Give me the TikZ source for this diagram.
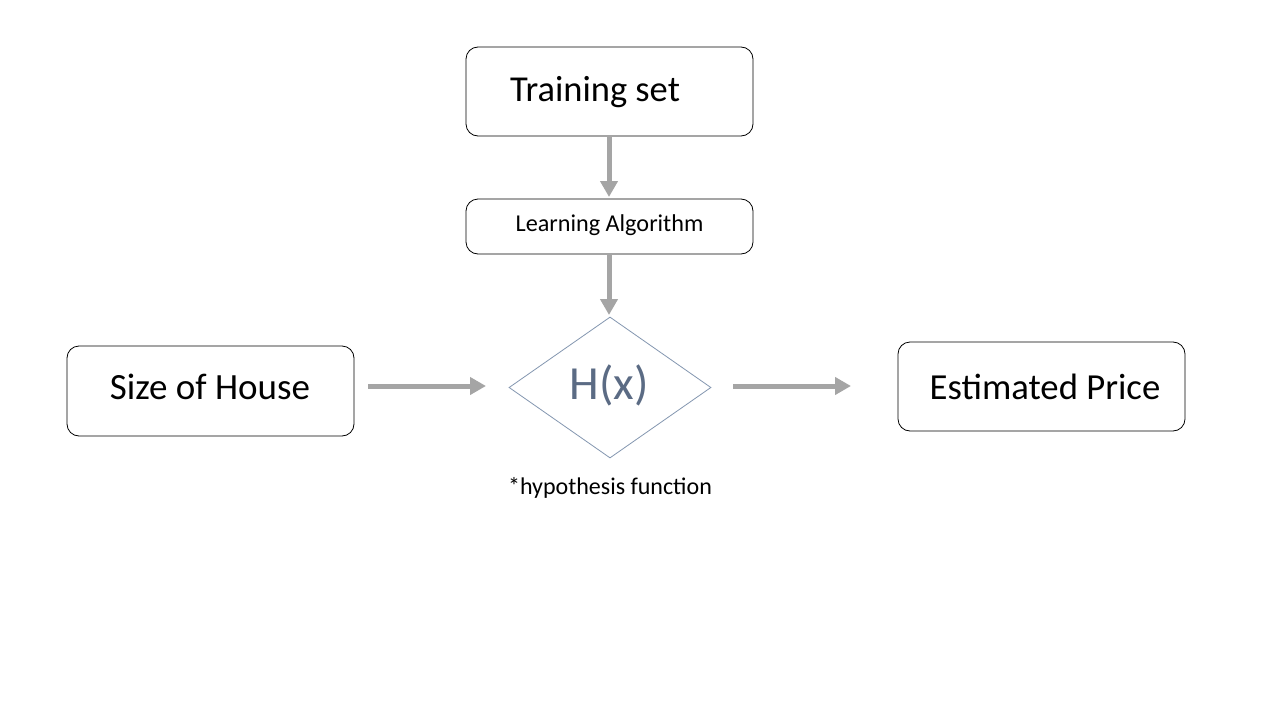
\documentclass[tikz,border=0pt]{standalone}
\usepackage{fontspec}
\setmainfont{Carlito}
\usetikzlibrary{shapes.geometric,arrows.meta}
\definecolor{arrgray}{HTML}{A5A5A5}
\definecolor{dialine}{HTML}{8497B0}
\definecolor{hxtext}{HTML}{5B6B84}
\tikzset{
  rbox/.style={draw=black, line width=0.8pt, rounded corners=12pt, fill=white},
  flowarrow/.style={draw=arrgray, line width=5pt, -{Triangle[length=16pt,width=17pt]}},
}
\begin{document}
\begin{tikzpicture}[x=1pt,y=-1pt]
\useasboundingbox (0,0) rectangle (1280,720);
\fill[white] (0,0) rectangle (1280,720);
% boxes
\draw[rbox] (466,47) rectangle (753,136);
\node (ts) [minimum width=287pt, minimum height=89pt, inner sep=0pt] at (609.5,91.5) {};
\node (tstext) at (595,92) {\fontsize{36.5}{40}\selectfont Training set};
\draw[rbox] (466,199) rectangle (753,254);
\node (la) [minimum width=287pt, minimum height=55pt, inner sep=0pt] at (609.5,226.5) {};
\node at (609.5,225) {\fontsize{24.2}{28}\selectfont Learning Algorithm};
\draw[rbox] (67,346) rectangle (354,436);
\node (sh) [minimum width=287pt, minimum height=90pt, inner sep=0pt] at (210.5,391) {};
\node at (210,387) {\fontsize{37}{42}\selectfont Size of House};
\draw[rbox] (898,342) rectangle (1185,431);
\node (ep) [minimum width=287pt, minimum height=89pt, inner sep=0pt] at (1041.5,386.5) {};
\node at (1045,387) {\fontsize{36.7}{42}\selectfont Estimated Price};
% diamond
\node (hx) [draw=dialine, line width=0.8pt, diamond, minimum width=202pt, minimum height=141pt, inner sep=0pt] at (610,387.5) {};
\node at (609,385) {\color{hxtext}\fontsize{47.5}{52}\selectfont H(x)};
\node (hf) at (610,488) {\fontsize{24}{28}\selectfont *hypothesis function};
% arrows
\coordinate (a1s) at (609,136);
\coordinate (a1e) at (609,197);
\coordinate (a2s) at (609,254);
\coordinate (a2e) at (609,315);
\coordinate (a3s) at (368,386);
\coordinate (a3e) at (486,386);
\coordinate (a4s) at (733,386);
\coordinate (a4e) at (851,386);
\draw[flowarrow] (a1s) -- (a1e);
\draw[flowarrow] (a2s) -- (a2e);
\draw[flowarrow] (a3s) -- (a3e);
\draw[flowarrow] (a4s) -- (a4e);
\end{tikzpicture}
\end{document}
